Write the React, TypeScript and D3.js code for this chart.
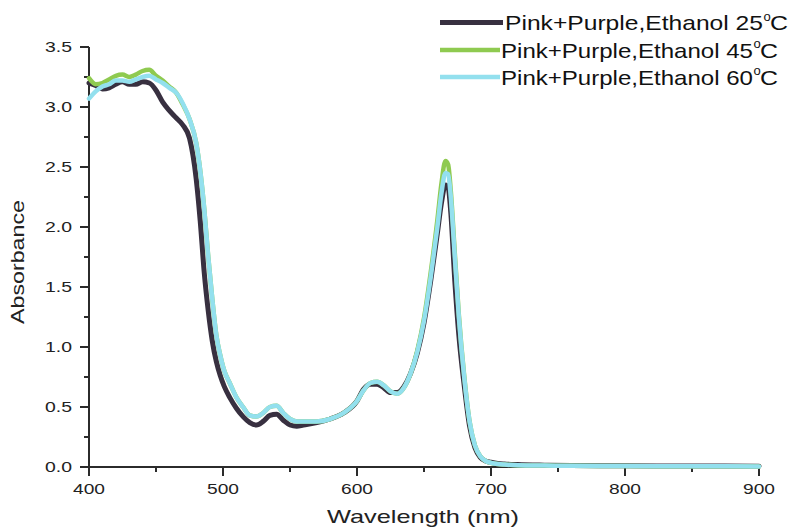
import React from "react";
import * as d3 from "d3";

const wavelengths = [400, 405, 410, 415, 420, 425, 430, 435, 440, 445, 450, 455, 460, 465, 470, 475, 480, 483, 486, 489, 492, 495, 498, 501, 505, 510, 515, 520, 525, 530, 535, 540, 545, 550, 555, 560, 570, 580, 590, 600, 605, 610, 615, 620, 625, 630, 635, 640, 645, 650, 655, 660, 663, 666, 668, 670, 673, 676, 680, 684, 688, 692, 696, 700, 705, 710, 720, 740, 760, 800, 850, 900];

const abs25 = [3.2, 3.18, 3.15, 3.16, 3.19, 3.21, 3.19, 3.19, 3.21, 3.2, 3.14, 3.04, 2.97, 2.91, 2.85, 2.74, 2.4, 2.05, 1.62, 1.3, 1.05, 0.88, 0.76, 0.67, 0.58, 0.49, 0.42, 0.37, 0.35, 0.38, 0.43, 0.44, 0.39, 0.35, 0.34, 0.35, 0.37, 0.4, 0.45, 0.55, 0.65, 0.69, 0.69, 0.66, 0.62, 0.62, 0.67, 0.78, 0.95, 1.2, 1.55, 1.95, 2.2, 2.35, 2.33, 2.12, 1.55, 1.1, 0.68, 0.34, 0.16, 0.08, 0.05, 0.04, 0.03, 0.025, 0.02, 0.015, 0.012, 0.01, 0.008, 0.007];

const abs45 = [3.24, 3.19, 3.2, 3.23, 3.26, 3.27, 3.25, 3.27, 3.3, 3.31, 3.26, 3.22, 3.17, 3.12, 3.02, 2.9, 2.7, 2.47, 2.15, 1.75, 1.4, 1.1, 0.93, 0.8, 0.7, 0.58, 0.5, 0.43, 0.42, 0.45, 0.5, 0.51, 0.45, 0.4, 0.38, 0.38, 0.38, 0.4, 0.45, 0.55, 0.64, 0.7, 0.71, 0.68, 0.63, 0.61, 0.66, 0.78, 0.97, 1.24, 1.62, 2.06, 2.36, 2.55, 2.52, 2.3, 1.78, 1.27, 0.76, 0.38, 0.18, 0.09, 0.05, 0.035, 0.025, 0.02, 0.015, 0.012, 0.01, 0.008, 0.006, 0.005];

const abs60 = [3.07, 3.13, 3.17, 3.19, 3.22, 3.22, 3.21, 3.23, 3.25, 3.26, 3.23, 3.2, 3.16, 3.12, 3.03, 2.9, 2.7, 2.47, 2.15, 1.75, 1.4, 1.1, 0.93, 0.8, 0.7, 0.58, 0.5, 0.43, 0.42, 0.45, 0.5, 0.51, 0.45, 0.4, 0.38, 0.38, 0.38, 0.4, 0.45, 0.55, 0.64, 0.7, 0.71, 0.68, 0.63, 0.61, 0.66, 0.78, 0.96, 1.22, 1.58, 2.0, 2.28, 2.45, 2.44, 2.25, 1.75, 1.25, 0.75, 0.38, 0.18, 0.09, 0.05, 0.035, 0.025, 0.02, 0.015, 0.012, 0.01, 0.008, 0.006, 0.005];

const seriesNames = ["Pink+Purple,Ethanol 25", "Pink+Purple,Ethanol 45", "Pink+Purple,Ethanol 60"];
const seriesColors = ["#383040", "#8fca50", "#93e0ee"];
const seriesValues = [abs25, abs45, abs60];

const xMajorTicks = [400, 500, 600, 700, 800, 900];
const xMinorTicks = [450, 550, 650, 750, 850];
const yMajorTicks = [0, 0.5, 1.0, 1.5, 2.0, 2.5, 3.0, 3.5];
const yMinorTicks = [0.25, 0.75, 1.25, 1.75, 2.25, 2.75, 3.25];

export default function App() {
  const W = 797;
  const H = 528;
  const x = d3.scaleLinear().domain([400, 900]).range([89, 759]);
  const y = d3.scaleLinear().domain([0, 3.5]).range([467, 47]);
  const axisColor = "#2b2b2b";
  const font = "'Liberation Sans', Arial, sans-serif";

  const line = d3
    .line<number>()
    .x((_, i) => x(wavelengths[i]))
    .y((d) => y(d))
    .curve(d3.curveMonotoneX);

  const widths = [5, 4.5, 4.5];
  const legendY = [22.5, 50, 77];
  const legendX0 = [440, 440, 440];
  const legendX1 = [503, 500, 500];
  const textX = [505, 501, 501];
  const textLen = [258, 252, 252];
  const baseY = [30, 57.5, 84.5];

  return (
    <svg
      width={W}
      height={H}
      style={{ position: "fixed", left: 0, top: 0, background: "#fff" }}
      fontFamily={font}
    >
      <rect x={0} y={0} width={W} height={H} fill="#fff" />
      {/* axes */}
      <line x1={x(400)} x2={x(900)} y1={y(0)} y2={y(0)} stroke={axisColor} strokeWidth={2} />
      <line x1={x(400)} x2={x(400)} y1={y(0) + 1} y2={y(3.5)} stroke={axisColor} strokeWidth={2} />
      {xMajorTicks.map((t) => (
        <g key={"xm" + t}>
          <line x1={x(t)} x2={x(t)} y1={y(0)} y2={y(0) + 9} stroke={axisColor} strokeWidth={2} />
          <text x={x(t)} y={494} fontSize={15} textAnchor="middle" fill="#222" textLength={32} lengthAdjust="spacingAndGlyphs">
            {String(t)}
          </text>
        </g>
      ))}
      {xMinorTicks.map((t) => (
        <line key={"xn" + t} x1={x(t)} x2={x(t)} y1={y(0)} y2={y(0) + 5} stroke={axisColor} strokeWidth={2} />
      ))}
      {yMajorTicks.map((t) => (
        <g key={"ym" + t}>
          <line x1={x(400) - 9} x2={x(400)} y1={y(t)} y2={y(t)} stroke={axisColor} strokeWidth={2} />
          <text x={72} y={y(t) + 5} fontSize={14} textAnchor="end" fill="#222" textLength={27} lengthAdjust="spacingAndGlyphs">
            {t.toFixed(1)}
          </text>
        </g>
      ))}
      {yMinorTicks.map((t) => (
        <line key={"yn" + t} x1={x(400) - 5} x2={x(400)} y1={y(t)} y2={y(t)} stroke={axisColor} strokeWidth={2} />
      ))}
      <text x={423} y={523} fontSize={19} textAnchor="middle" fill="#222" textLength={192} lengthAdjust="spacingAndGlyphs">
        Wavelength (nm)
      </text>
      <text
        transform="translate(24,262) rotate(-90)"
        fontSize={19}
        textAnchor="middle"
        fill="#222"
        textLength={124}
        lengthAdjust="spacingAndGlyphs"
      >
        Absorbance
      </text>
      {/* series */}
      {seriesValues.map((vals, i) => (
        <path key={"s" + i} d={line(vals) || ""} fill="none" stroke={seriesColors[i]} strokeWidth={widths[i]} strokeLinejoin="round" strokeLinecap="round" />
      ))}
      {/* legend */}
      {seriesNames.map((name, i) => (
        <g key={"lg" + i}>
          <line x1={legendX0[i]} x2={legendX1[i]} y1={legendY[i]} y2={legendY[i]} stroke={seriesColors[i]} strokeWidth={i === 0 ? 5 : 4.5} />
          <text x={textX[i]} y={baseY[i]} fontSize={21} fill="#111" textLength={textLen[i]} lengthAdjust="spacingAndGlyphs">
            {name}
          </text>
          <text x={textX[i] + textLen[i] + 0.5} y={baseY[i] - 9.5} fontSize={13} fill="#111">
            o
          </text>
          <text x={textX[i] + textLen[i] + 7} y={baseY[i]} fontSize={21} fill="#111" textLength={18} lengthAdjust="spacingAndGlyphs">
            C
          </text>
        </g>
      ))}
    </svg>
  );
}
